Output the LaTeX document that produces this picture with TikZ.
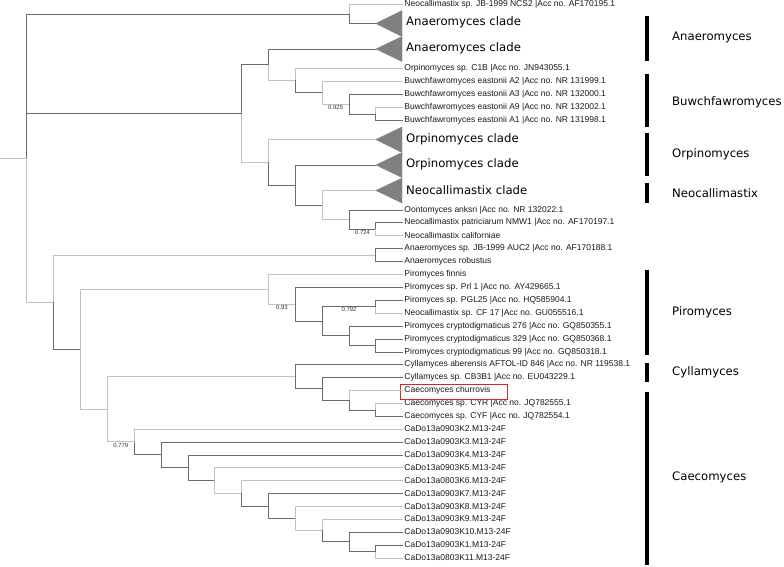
\documentclass[tikz,border=0pt]{standalone}
\usepackage{fontspec}
\newfontfamily\leaffont{Liberation Sans}
\newfontfamily\cladefont{DejaVu Sans}
\definecolor{boxred}{RGB}{214,38,38}

\begin{document}
\begin{tikzpicture}[x=1pt, y=-1pt,
  darkline/.style  = {draw=black!58, line width=0.9pt},
  paleline/.style  = {draw=black!24, line width=0.9pt},
  taxon/.style     = {anchor=west, inner sep=1.5pt, text=black!90,
                      font=\leaffont\fontsize{8.5}{10}\selectfont},
  cladetext/.style = {anchor=west, inner xsep=4pt, inner ysep=1pt,
                      font=\cladefont\fontsize{11.7}{14}\selectfont},
  genus/.style     = {anchor=west, inner sep=1pt,
                      font=\cladefont\fontsize{11.7}{14}\selectfont},
  boot/.style      = {anchor=north, inner sep=0.8pt, text=black!80,
                      font=\leaffont\fontsize{6}{7}\selectfont},
  cladetri/.style  = {fill=black!50, draw=black!50, line width=0.4pt},
  cladebar/.style  = {draw=black, line width=4pt}]
  \useasboundingbox (0,0) rectangle (784,566);

  % tips
  \node[taxon] (ncs2)   at (402.75,4.5)   {Neocallimastix sp. JB-1999 NCS2 |Acc no. AF170195.1};
  \node[taxon] (c1b)    at (402.75,68)    {Orpinomyces sp. C1B |Acc no. JN943055.1};
  \node[taxon] (a2)     at (402.75,81)    {Buwchfawromyces eastonii A2 |Acc no. NR 131999.1};
  \node[taxon] (a3)     at (402.75,94.5)  {Buwchfawromyces eastonii A3 |Acc no. NR 132000.1};
  \node[taxon] (a9)     at (402.75,107.5) {Buwchfawromyces eastonii A9 |Acc no. NR 132002.1};
  \node[taxon] (a1)     at (402.75,120.5) {Buwchfawromyces eastonii A1 |Acc no. NR 131998.1};
  \node[taxon] (oonto)  at (402.75,210.5) {Oontomyces anksri |Acc no. NR 132022.1};
  \node[taxon] (patr)   at (402.75,222.5) {Neocallimastix patriciarum NMW1 |Acc no. AF170197.1};
  \node[taxon] (calif)  at (402.75,235.5) {Neocallimastix californiae};
  \node[taxon] (auc2)   at (402.75,248.5) {Anaeromyces sp. JB-1999 AUC2 |Acc no. AF170188.1};
  \node[taxon] (robus)  at (402.75,261.5) {Anaeromyces robustus};
  \node[taxon] (finnis) at (402.75,274.5) {Piromyces finnis};
  \node[taxon] (prl1)   at (402.75,287.5) {Piromyces sp. Prl 1 |Acc no. AY429665.1};
  \node[taxon] (pgl25)  at (402.75,300)   {Piromyces sp. PGL25 |Acc no. HQ585904.1};
  \node[taxon] (cf17)   at (402.75,313)   {Neocallimastix sp. CF 17 |Acc no. GU055516.1};
  \node[taxon] (p276)   at (402.75,326)   {Piromyces cryptodigmaticus 276 |Acc no. GQ850355.1};
  \node[taxon] (p329)   at (402.75,339)   {Piromyces cryptodigmaticus 329 |Acc no. GQ850368.1};
  \node[taxon] (p99)    at (402.75,352)   {Piromyces cryptodigmaticus 99 |Acc no. GQ850318.1};
  \node[taxon] (aber)   at (402.75,364.5) {Cyllamyces aberensis AFTOL-ID 846 |Acc no. NR 119538.1};
  \node[taxon] (cb3b1)  at (402.75,377.5) {Cyllamyces sp. CB3B1 |Acc no. EU043229.1};
  \node[taxon] (churr)  at (402.75,390.5) {Caecomyces churrovis};
  \node[taxon] (cyr)    at (402.75,403.5) {Caecomyces sp. CYR |Acc no. JQ782555.1};
  \node[taxon] (cyf)    at (402.75,416.5) {Caecomyces sp. CYF |Acc no. JQ782554.1};
  \node[taxon] (k2)     at (402.75,429)   {CaDo13a0903K2.M13-24F};
  \node[taxon] (k3)     at (402.75,442)   {CaDo13a0903K3.M13-24F};
  \node[taxon] (k4)     at (402.75,455)   {CaDo13a0903K4.M13-24F};
  \node[taxon] (k5)     at (402.75,467.5) {CaDo13a0903K5.M13-24F};
  \node[taxon] (k6)     at (402.75,480.5) {CaDo13a0803K6.M13-24F};
  \node[taxon] (k7)     at (402.75,493.5) {CaDo13a0903K7.M13-24F};
  \node[taxon] (k8)     at (402.75,506.5) {CaDo13a0903K8.M13-24F};
  \node[taxon] (k9)     at (402.75,519)   {CaDo13a0903K9.M13-24F};
  \node[taxon] (k10)    at (402.75,532)   {CaDo13a0903K10.M13-24F};
  \node[taxon] (k1)     at (402.75,545)   {CaDo13a0903K1.M13-24F};
  \node[taxon] (k11)    at (402.75,558)   {CaDo13a0803K11.M13-24F};
  \draw[boxred, line width=0.9pt] ([shift={(-2pt,6.5pt)}]churr.west)
                          rectangle ([shift={(105pt,-8.5pt)}]churr.west);

  % collapsed clades
  \coordinate (anaA) at (375.9,23.5);
  \coordinate (anaB) at (375.9,49);
  \coordinate (orpA) at (375.9,139.5);
  \coordinate (orpB) at (375.9,165);
  \coordinate (neoC) at (375.9,190.5);
  \fill[cladetri] (anaA) -- (402,10.5)  -- (402,36.5)  -- cycle;
  \fill[cladetri] (anaB) -- (402,36.5)  -- (402,61.5)  -- cycle;
  \fill[cladetri] (orpA) -- (402,127)   -- (402,152.5) -- cycle;
  \fill[cladetri] (orpB) -- (402,152.5) -- (402,177.5) -- cycle;
  \fill[cladetri] (neoC) -- (402,178)   -- (402,203)   -- cycle;
  \node[cladetext] (anaAtxt) at (402,22.5)  {Anaeromyces clade};
  \node[cladetext] (anaBtxt) at (402,48)    {Anaeromyces clade};
  \node[cladetext] (orpAtxt) at (402,139.5) {Orpinomyces clade};
  \node[cladetext] (orpBtxt) at (402,164.5) {Orpinomyces clade};
  \node[cladetext] (neoCtxt) at (402,190.5) {Neocallimastix clade};

  % inner nodes
  \coordinate (stub) at (0,158.1);
  \coordinate (root) at (26.85,158.1);
  \coordinate (nA)   at (349.05,14);
  \coordinate (nB)   at (375.9,114);
  \coordinate (nC)   at (349.05,104.25);
  \coordinate (nD)   at (322.2,92.6);
  \coordinate (nE)   at (295.35,80.3);
  \coordinate (nF)   at (268.5,64.65);
  \coordinate (nG)   at (375.9,229);
  \coordinate (nH)   at (349.05,219.75);
  \coordinate (nI)   at (322.2,205.1);
  \coordinate (nJ)   at (295.35,185.05);
  \coordinate (nK)   at (268.5,162.3);
  \coordinate (nL)   at (241.65,113.5);
  \coordinate (nM)   at (53.7,302.2);
  \coordinate (nN)   at (375.9,255);
  \coordinate (nR)   at (80.55,349.35);
  \coordinate (nP1)  at (375.9,306.5);
  \coordinate (nP2)  at (375.9,345.5);
  \coordinate (nP3)  at (349.05,335.75);
  \coordinate (nP4)  at (322.2,321.1);
  \coordinate (nP5)  at (295.35,304.3);
  \coordinate (nP6)  at (268.5,289.4);
  \coordinate (nQ)   at (107.4,409.3);
  \coordinate (nC1)  at (375.9,410);
  \coordinate (nC2)  at (349.05,400.25);
  \coordinate (nC3)  at (322.2,388.9);
  \coordinate (nC4)  at (295.35,376.7);
  \coordinate (nK10) at (134.25,441.9);
  \coordinate (nK9)  at (161.1,454.85);
  \coordinate (nK8)  at (187.95,467.7);
  \coordinate (nK7)  at (214.8,480.4);
  \coordinate (nK6)  at (241.65,493.25);
  \coordinate (nK5)  at (268.5,506);
  \coordinate (nK4)  at (295.35,518.45);
  \coordinate (nK3)  at (322.2,530.4);
  \coordinate (nK2)  at (349.05,541.75);
  \coordinate (nK1)  at (375.9,551.5);

  % branches
  \draw[paleline] (stub) -- (root);
  \draw[darkline] (root) |- (nA);
  \draw[darkline] (root) |- (nL);
  \draw[paleline] (root) |- (nM);
  \draw[paleline] (nA) |- (ncs2);
  \draw[darkline] (nA) |- (anaA);
  \draw[darkline] (nL) |- (nF);
  \draw[paleline] (nL) |- (nK);
  \draw[darkline] (nF) |- (anaB);
  \draw[paleline] (nF) |- (nE);
  \draw[paleline] (nE) |- (c1b);
  \draw[darkline] (nE) |- (nD);
  \draw[paleline] (nD) |- (a2);
  \draw[paleline] (nD) |- (nC);
  \draw[darkline] (nC) |- (a3);
  \draw[darkline] (nC) |- (nB);
  \draw[paleline] (nB) |- (a9);
  \draw[darkline] (nB) |- (a1);
  \draw[paleline] (nK) |- (orpA);
  \draw[darkline] (nK) |- (nJ);
  \draw[darkline] (nJ) |- (orpB);
  \draw[darkline] (nJ) |- (nI);
  \draw[paleline] (nI) |- (neoC);
  \draw[paleline] (nI) |- (nH);
  \draw[darkline] (nH) |- (oonto);
  \draw[darkline] (nH) |- (nG);
  \draw[darkline] (nG) |- (patr);
  \draw[paleline] (nG) |- (calif);
  \draw[paleline] (nM) |- (nN);
  \draw[darkline] (nM) |- (nR);
  \draw[darkline] (nN) |- (auc2);
  \draw[darkline] (nN) |- (robus);
  \draw[paleline] (nR) |- (nP6);
  \draw[paleline] (nR) |- (nQ);
  \draw[paleline] (nP6) |- (finnis);
  \draw[paleline] (nP6) |- (nP5);
  \draw[darkline] (nP5) |- (prl1);
  \draw[darkline] (nP5) |- (nP4);
  \draw[darkline] (nP4) |- (nP1);
  \draw[darkline] (nP4) |- (nP3);
  \draw[darkline] (nP1) |- (pgl25);
  \draw[paleline] (nP1) |- (cf17);
  \draw[darkline] (nP3) |- (p276);
  \draw[darkline] (nP3) |- (nP2);
  \draw[darkline] (nP2) |- (p329);
  \draw[darkline] (nP2) |- (p99);
  \draw[paleline] (nQ) |- (nC4);
  \draw[paleline] (nQ) |- (nK10);
  \draw[darkline] (nC4) |- (aber);
  \draw[darkline] (nC4) |- (nC3);
  \draw[darkline] (nC3) |- (cb3b1);
  \draw[darkline] (nC3) |- (nC2);
  \draw[paleline] (nC2) |- (churr);
  \draw[darkline] (nC2) |- (nC1);
  \draw[paleline] (nC1) |- (cyr);
  \draw[darkline] (nC1) |- (cyf);
  \draw[paleline] (nK10) |- (k2);
  \draw[darkline] (nK10) |- (nK9);
  \draw[darkline] (nK9) |- (k3);
  \draw[darkline] (nK9) |- (nK8);
  \draw[darkline] (nK8) |- (k4);
  \draw[darkline] (nK8) |- (nK7);
  \draw[paleline] (nK7) |- (k5);
  \draw[paleline] (nK7) |- (nK6);
  \draw[paleline] (nK6) |- (k6);
  \draw[darkline] (nK6) |- (nK5);
  \draw[darkline] (nK5) |- (k7);
  \draw[darkline] (nK5) |- (nK4);
  \draw[paleline] (nK4) |- (k8);
  \draw[paleline] (nK4) |- (nK3);
  \draw[paleline] (nK3) |- (k9);
  \draw[darkline] (nK3) |- (nK2);
  \draw[darkline] (nK2) |- (k10);
  \draw[darkline] (nK2) |- (nK1);
  \draw[darkline] (nK1) |- (k1);
  \draw[paleline] (nK1) |- (k11);

  % support values
  \node[boot] (b925) at (335.6,104.25) {0.925};
  \node[boot] (b724) at (362.5,229)    {0.724};
  \node[boot] (b930) at (281.9,304.3)  {0.93};
  \node[boot] (b792) at (349.05,306.5) {0.792};
  \node[boot] (b779) at (120.8,441.9)  {0.779};

  % genera
  \draw[cladebar] (647,16)  -- (647,61);
  \draw[cladebar] (647,74)  -- (647,127);
  \draw[cladebar] (647,133) -- (647,176);
  \draw[cladebar] (647,183) -- (647,203);
  \draw[cladebar] (647,270) -- (647,355);
  \draw[cladebar] (647,363) -- (647,382);
  \draw[cladebar] (647,392) -- (647,565);
  \node[genus] (gAna) at (671,37)  {Anaeromyces};
  \node[genus] (gBuw) at (671,102) {Buwchfawromyces};
  \node[genus] (gOrp) at (671,154) {Orpinomyces};
  \node[genus] (gNeo) at (671,193) {Neocallimastix};
  \node[genus] (gPir) at (671,312) {Piromyces};
  \node[genus] (gCyl) at (671,372) {Cyllamyces};
  \node[genus] (gCae) at (671,477) {Caecomyces};
\end{tikzpicture}
\end{document}
